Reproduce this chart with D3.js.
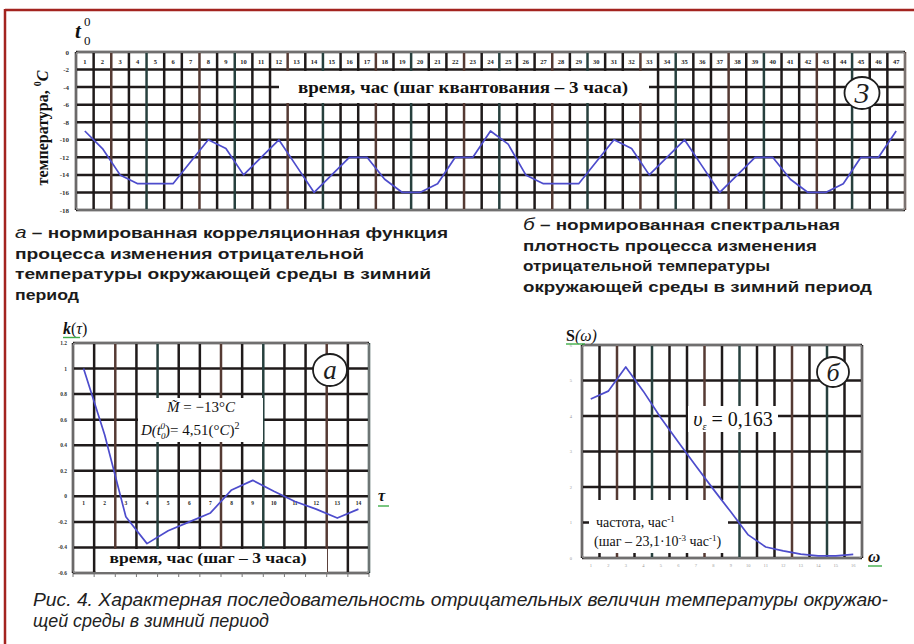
<!DOCTYPE html>
<html>
<head>
<meta charset="utf-8">
<script src="https://cdn.jsdelivr.net/npm/d3@7"></script>
<style>
  html, body { margin: 0; padding: 0; background: #fff; }
  svg { display: block; }
</style>
</head>
<body>
<svg id="fig" width="914" height="644"></svg>
<script>
// ---- Winter temperature record, 3-hour quantisation step ----
const hourSteps = [1,2,3,4,5,6,7,8,9,10,11,12,13,14,15,16,17,18,19,20,21,22,23,24,
                   25,26,27,28,29,30,31,32,33,34,35,36,37,38,39,40,41,42,43,44,45,46,47];
const temperature = [-9,-11,-14,-15,-15,-15,-12.5,-10,-11,-14,-12,-10,-13,-16,-14,-12,-12,-14.5,-16,-16,-15,-12,-12,
                     -9,-10.5,-14,-15,-15,-15,-12.5,-10,-11,-14,-12,-10,-13,-16,-14,-12,-12,-14.5,-16,-16,-15,-12,-12,-9];
const tempTicks = [0,-2,-4,-6,-8,-10,-12,-14,-16,-18];

// ---- Normalised correlation function k(tau) ----
const lagSteps = [1,2,3,4,5,6,7,8,9,10,11,12,13,14];
const correlation = [1.0,0.48,-0.16,-0.37,-0.27,-0.2,-0.13,0.05,0.125,0.04,-0.04,-0.1,-0.17,-0.1];
const corrTicks = [1.2,1,0.8,0.6,0.4,0.2,0,-0.2,-0.4,-0.6];
const corrTickLabels = ["1.2","1","0.8","0.6","0.4","0.2","0","-0.2","-0.4","-0.6"];

// ---- Normalised spectral density S(omega) ----
const freqSteps = [1,2,3,4,5,6,7,8,9,10,11,12,13,14,15,16];
const spectrum = [4.48,4.7,5.38,4.7,3.95,3.27,2.6,1.94,1.3,0.65,0.31,0.2,0.11,0.06,0.06,0.1];
const spectrumTicks = [0,1,2,3,4,5,6];

// ---- Text blocks ----
const leftNote = ["а – нормированная корреляционная функция", "процесса изменения отрицательной",
                  "температуры окружающей среды в зимний", "период"];
const rightNote = ["б – нормированная спектральная", "плотность процесса изменения",
                   "отрицательной температуры", "окружающей среды в зимний период"];
const caption = ["Рис. 4. Характерная последовательность отрицательных величин температуры окружаю-",
                 "щей среды в зимний период"];

const svg = d3.select("#fig");
const SERIF = "'Liberation Serif','Times New Roman',serif";
const SANS = "'Liberation Sans',Arial,sans-serif";
const NARROW = "'Liberation Sans Narrow','Liberation Sans',Arial,sans-serif";
const gridPalette = ["#1f1a1a", "#1f1a1a", "#553a33", "#1f1a1a", "#27403e"];
const curveColor = "#4d4ccc";
const spellGreen = "#3fae49";

// page frame
svg.append("line").attr("x1", 5).attr("y1", 10).attr("x2", 914).attr("y2", 10)
  .attr("stroke", "#a3231f").attr("stroke-width", 2.5);
svg.append("line").attr("x1", 5).attr("y1", 9).attr("x2", 5).attr("y2", 644)
  .attr("stroke", "#a3231f").attr("stroke-width", 2.5);

// grid of a panel: a line on every column edge and every value tick
function drawGrid(g, xBand, yScale, yTicks) {
  const [x0, x1] = xBand.range();
  const yTop = Math.min(...yScale.range()), yBot = Math.max(...yScale.range());
  const edges = xBand.domain().map(d => xBand(d)).concat([x1]);
  g.selectAll("line.hgrid").data(yTicks).join("line").attr("class", "hgrid")
    .attr("x1", x0).attr("x2", x1).attr("y1", d => yScale(d)).attr("y2", d => yScale(d))
    .attr("stroke", "#1f1a1a").attr("stroke-width", 2.5);
  g.selectAll("line.vgrid").data(edges).join("line").attr("class", "vgrid")
    .attr("x1", d => d).attr("x2", d => d).attr("y1", yTop).attr("y2", yBot)
    .attr("stroke", (d, i) => gridPalette[i % gridPalette.length]).attr("stroke-width", 2.5);
  g.append("rect").attr("x", x0).attr("y", yTop).attr("width", x1 - x0).attr("height", yBot - yTop)
    .attr("rx", 3).attr("fill", "none").attr("stroke", "#8c8c8c").attr("stroke-width", 1.4);
}

function whiteBox(g, x, y, w, h) {
  g.append("rect").attr("x", x).attr("y", y).attr("width", w).attr("height", h).attr("fill", "#fff");
}

function circledLetter(g, cx, cy, rx, ry, letter, size) {
  g.append("ellipse").attr("cx", cx).attr("cy", cy).attr("rx", rx).attr("ry", ry)
    .attr("fill", "#fff").attr("stroke", "#1e1e1e").attr("stroke-width", 1.8);
  g.append("text").attr("x", cx).attr("y", cy + size * 0.33).attr("text-anchor", "middle")
    .attr("font-family", SERIF).attr("font-style", "italic").attr("font-size", size)
    .attr("fill", "#1e1e1e").text(letter);
}

function drawCurve(g, xBand, yScale, cats, vals, curve) {
  const line = d3.line()
    .x((d, i) => xBand(cats[i]) + xBand.bandwidth() / 2)
    .y(d => yScale(d))
    .curve(curve);
  g.append("path").datum(vals).attr("d", line).attr("fill", "none")
    .attr("stroke", curveColor).attr("stroke-width", 1.7).attr("stroke-linejoin", "round");
}

// ================= Top panel: temperature sequence =================
const gT = svg.append("g");
const xT = d3.scaleBand().domain(hourSteps).range([76, 905]).paddingInner(0).paddingOuter(0);
const yT = d3.scaleLinear().domain([0, -18]).range([52, 210]);
drawGrid(gT, xT, yT, tempTicks);

// column numbers in the first row
gT.selectAll("text.col").data(hourSteps).join("text").attr("class", "col")
  .attr("x", d => xT(d) + xT.bandwidth() / 2).attr("y", 63.5).attr("text-anchor", "middle")
  .attr("font-family", SERIF).attr("font-weight", "bold").attr("font-size", 6.5).attr("fill", "#222")
  .text(d => d);

// value ticks
gT.selectAll("text.yt").data(tempTicks).join("text").attr("class", "yt")
  .attr("x", 69).attr("y", d => yT(d) + 2.5).attr("text-anchor", "end")
  .attr("font-family", SERIF).attr("font-weight", "bold").attr("font-size", 7).attr("fill", "#333")
  .text(d => d);

// axis caption box
whiteBox(gT, 279, 71, 370, 32);
gT.append("text").attr("x", 463).attr("y", 93).attr("text-anchor", "middle")
  .attr("font-family", SERIF).attr("font-weight", "bold").attr("font-size", 16).attr("fill", "#111")
  .attr("textLength", 330).attr("lengthAdjust", "spacingAndGlyphs")
  .text("время, час (шаг квантования – 3 часа)");
circledLetter(gT, 862, 93, 17.5, 16, "3", 30);

drawCurve(gT, xT, yT, hourSteps, temperature, d3.curveLinear);

// axis titles
const tt = gT.append("text").attr("transform", "translate(48,128) rotate(-90)")
  .attr("text-anchor", "middle").attr("font-family", SERIF).attr("font-weight", "bold")
  .attr("font-size", 16).attr("fill", "#111");
tt.append("tspan").text("температура, ");
tt.append("tspan").attr("dy", -7).attr("font-size", 10).text("0");
tt.append("tspan").attr("dy", 7).attr("font-style", "italic").text("C");

gT.append("text").attr("x", 75).attr("y", 38).attr("font-family", SERIF).attr("font-style", "italic")
  .attr("font-weight", "bold").attr("font-size", 21).attr("fill", "#111").text("t");
gT.append("text").attr("x", 84).attr("y", 26).attr("font-family", SERIF).attr("font-size", 13)
  .attr("fill", "#111").text("0");
gT.append("text").attr("x", 84).attr("y", 45).attr("font-family", SERIF).attr("font-size", 13)
  .attr("fill", "#111").text("0");

// ================= Middle notes =================
const leftWidths = [433, 349, 416, 64];
const rightWidths = [317, 294, 247, 349];
function noteBlock(lines, x, y0, widths) {
  lines.forEach((s, i) => {
    const t = svg.append("text").attr("x", x).attr("y", y0 + i * 20.5)
      .attr("font-family", SANS).attr("font-weight", "bold").attr("font-size", 15.5).attr("fill", "#1b1b1b")
      .attr("textLength", widths[i]).attr("lengthAdjust", "spacingAndGlyphs");
    if (i === 0) {
      t.append("tspan").attr("font-style", "italic").attr("font-weight", "normal").attr("font-size", 17).text(s.charAt(0));
      t.append("tspan").text(s.slice(1));
    } else {
      t.text(s);
    }
  });
}
noteBlock(leftNote, 15, 238, leftWidths);
noteBlock(rightNote, 523, 230, rightWidths);

// ================= Panel a: correlation function =================
const gA = svg.append("g");
const xA = d3.scaleBand().domain(lagSteps).range([73, 369]).paddingInner(0).paddingOuter(0);
const yA = d3.scaleLinear().domain([-0.6, 1.2]).range([573, 343]);
drawGrid(gA, xA, yA, corrTicks);

// tick stubs under the bottom edge
gA.selectAll("line.stub").data(lagSteps.map(d => xA(d)).concat([369])).join("line").attr("class", "stub")
  .attr("x1", d => d).attr("x2", d => d).attr("y1", 573).attr("y2", 577)
  .attr("stroke", "#777").attr("stroke-width", 1);

gA.selectAll("text.yt").data(corrTicks).join("text").attr("class", "yt")
  .attr("x", 67).attr("y", (d) => yA(d) + 2).attr("text-anchor", "end")
  .attr("font-family", SERIF).attr("font-weight", "bold").attr("font-size", 5.5).attr("fill", "#333")
  .text((d, i) => corrTickLabels[i]);

gA.selectAll("text.col").data(lagSteps).join("text").attr("class", "col")
  .attr("x", d => xA(d) + xA.bandwidth() / 2).attr("y", 505).attr("text-anchor", "middle")
  .attr("font-family", SERIF).attr("font-weight", "bold").attr("font-size", 5.5).attr("fill", "#222")
  .text(d => d);

// statistics box
whiteBox(gA, 138, 398, 125, 44);
const tm = gA.append("text").attr("x", 201).attr("y", 412).attr("text-anchor", "middle")
  .attr("font-family", SERIF).attr("font-style", "italic").attr("font-size", 15).attr("fill", "#111");
tm.append("tspan").text("M\u0303");
tm.append("tspan").attr("font-style", "normal").text(" = −13°");
tm.append("tspan").text("C");
const td = gA.append("text").attr("x", 141).attr("y", 435)
  .attr("font-family", SERIF).attr("font-style", "italic").attr("font-size", 15).attr("fill", "#111");
td.append("tspan").text("D(t");
td.append("tspan").attr("dy", 4).attr("font-size", 9).text("0");
td.append("tspan").attr("dx", -5).attr("dy", -10).attr("font-size", 9).text("0");
td.append("tspan").attr("dy", 6).attr("font-style", "normal").text(")= 4,51(°");
td.append("tspan").text("C");
td.append("tspan").attr("font-style", "normal").text(")");
td.append("tspan").attr("dy", -6).attr("font-size", 10).attr("font-style", "normal").text("2");

// time axis caption box
whiteBox(gA, 96, 549, 231, 23);
gA.append("text").attr("x", 208).attr("y", 563).attr("text-anchor", "middle")
  .attr("font-family", SERIF).attr("font-weight", "bold").attr("font-size", 15).attr("fill", "#111")
  .attr("textLength", 197).attr("lengthAdjust", "spacingAndGlyphs")
  .text("время, час (шаг – 3 часа)");

circledLetter(gA, 330, 370, 17, 16, "a", 27);
drawCurve(gA, xA, yA, lagSteps, correlation, d3.curveLinear);

// axis symbols
const tk = gA.append("text").attr("x", 63).attr("y", 334).attr("font-family", SERIF)
  .attr("font-size", 16).attr("fill", "#111");
tk.append("tspan").attr("font-weight", "bold").attr("font-style", "italic").text("k");
tk.append("tspan").text("(");
tk.append("tspan").attr("font-style", "italic").text("τ");
tk.append("tspan").text(")");
gA.append("line").attr("x1", 63).attr("x2", 80).attr("y1", 337.5).attr("y2", 337.5)
  .attr("stroke", spellGreen).attr("stroke-width", 1.4);
gA.append("text").attr("x", 378).attr("y", 501).attr("font-family", SERIF).attr("font-weight", "bold")
  .attr("font-style", "italic").attr("font-size", 16).attr("fill", "#111").text("τ");
gA.append("line").attr("x1", 378).attr("x2", 389).attr("y1", 506).attr("y2", 506)
  .attr("stroke", spellGreen).attr("stroke-width", 1.4);

// ================= Panel б: spectral density =================
const gB = svg.append("g");
const xB = d3.scaleBand().domain(freqSteps).range([582, 862]).paddingInner(0).paddingOuter(0);
const yB = d3.scaleLinear().domain([0, 6]).range([558, 345]);
drawGrid(gB, xB, yB, spectrumTicks);

gB.selectAll("text.yt").data(spectrumTicks).join("text").attr("class", "yt")
  .attr("x", 572).attr("y", d => yB(d) + 1.5).attr("text-anchor", "end")
  .attr("font-family", SERIF).attr("font-size", 4.5).attr("fill", "#999")
  .text(d => d);
gB.selectAll("text.col").data(freqSteps).join("text").attr("class", "col")
  .attr("x", d => xB(d) + xB.bandwidth() / 2).attr("y", 567).attr("text-anchor", "middle")
  .attr("font-family", SERIF).attr("font-size", 4.5).attr("fill", "#999")
  .text(d => d);

// frequency caption box
whiteBox(gB, 589, 500, 139, 53);
const tf1 = gB.append("text").attr("x", 596).attr("y", 527).attr("font-family", SERIF)
  .attr("font-size", 14).attr("fill", "#111");
tf1.append("tspan").text("частота, час");
tf1.append("tspan").attr("dy", -5).attr("font-size", 9).text("-1");
const tf2 = gB.append("text").attr("x", 594).attr("y", 546).attr("font-family", SERIF)
  .attr("font-size", 14).attr("fill", "#111");
tf2.append("tspan").text("(шаг – 23,1·10");
tf2.append("tspan").attr("dy", -5).attr("font-size", 9).text("-3");
tf2.append("tspan").attr("dy", 5).text("  час");
tf2.append("tspan").attr("dy", -5).attr("font-size", 9).text("-1");
tf2.append("tspan").attr("dy", 5).text(")");

// cut-off frequency box
whiteBox(gB, 688, 406, 90, 26);
const tv = gB.append("text").attr("x", 733).attr("y", 426).attr("text-anchor", "middle")
  .attr("font-family", SERIF).attr("font-size", 20).attr("fill", "#111");
tv.append("tspan").attr("font-style", "italic").text("υ");
tv.append("tspan").attr("dy", 4).attr("font-size", 10).attr("font-style", "italic").text("ε");
tv.append("tspan").attr("dy", -4).text(" = 0,163");

circledLetter(gB, 833, 372, 16, 15, "б", 26);
drawCurve(gB, xB, yB, freqSteps, spectrum, d3.curveLinear);

const ts = gB.append("text").attr("x", 566).attr("y", 341).attr("font-family", SERIF)
  .attr("font-size", 16).attr("fill", "#111");
ts.append("tspan").attr("font-weight", "bold").text("S");
ts.append("tspan").attr("font-style", "italic").text("(ω)");
gB.append("line").attr("x1", 566).attr("x2", 585).attr("y1", 344).attr("y2", 344)
  .attr("stroke", spellGreen).attr("stroke-width", 1.4);
gB.append("text").attr("x", 868).attr("y", 562).attr("font-family", SERIF).attr("font-weight", "bold")
  .attr("font-style", "italic").attr("font-size", 17).attr("fill", "#111").text("ω");
gB.append("line").attr("x1", 868).attr("x2", 882).attr("y1", 566).attr("y2", 566)
  .attr("stroke", spellGreen).attr("stroke-width", 1.4);

// ================= Caption =================
const capWidths = [855, 236];
caption.forEach((s, i) => {
  svg.append("text").attr("x", 33).attr("y", 606 + i * 21)
    .attr("font-family", NARROW).attr("font-style", "italic").attr("font-size", 19).attr("fill", "#222")
    .attr("textLength", capWidths[i]).attr("lengthAdjust", "spacingAndGlyphs")
    .text(s);
});
</script>
</body>
</html>
